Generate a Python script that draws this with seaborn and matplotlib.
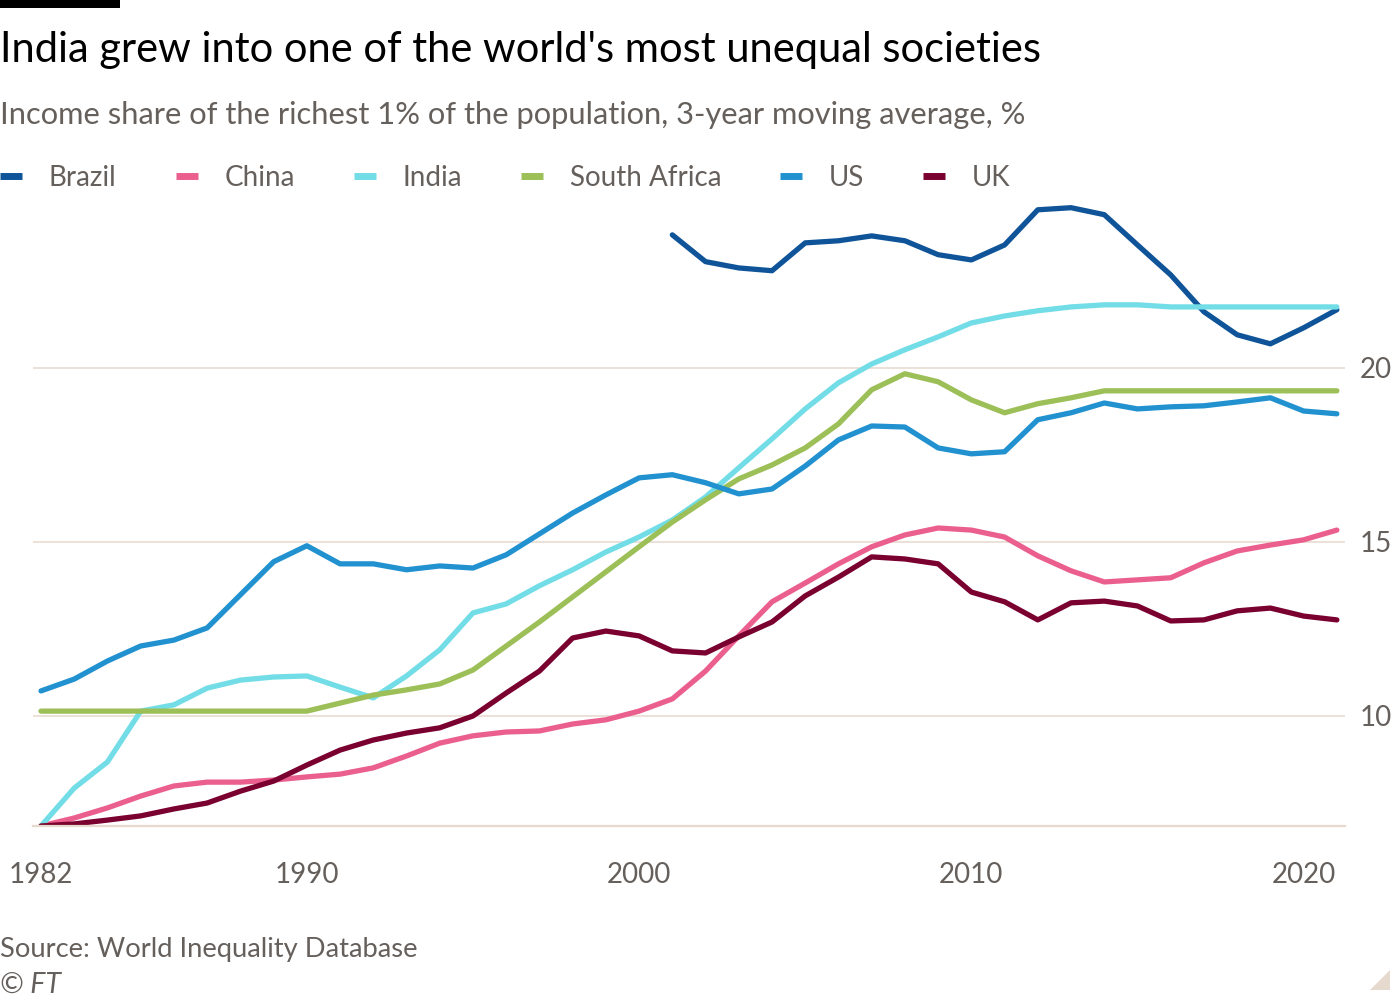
import numpy as np
import pandas as pd
import matplotlib
matplotlib.use("Agg")
import matplotlib.pyplot as plt
from matplotlib.patches import Rectangle, Polygon
import seaborn as sns

# ---------------- data ----------------
years = list(range(1982, 2022))
brazil_years = list(range(2001, 2022))

brazil = [23.82, 23.05, 22.87, 22.79, 23.59, 23.65, 23.79, 23.65, 23.25, 23.10,
          23.53, 24.54, 24.60, 24.40, 23.53, 22.67, 21.61, 20.95, 20.69, 21.15, 21.67]

china = [6.84, 7.07, 7.36, 7.70, 7.99, 8.10, 8.10, 8.16, 8.25, 8.33,
         8.51, 8.85, 9.22, 9.43, 9.54, 9.57, 9.77, 9.89, 10.14, 10.49,
         11.29, 12.30, 13.28, 13.82, 14.37, 14.86, 15.20, 15.40, 15.34, 15.14,
         14.60, 14.17, 13.85, 13.91, 13.97, 14.40, 14.74, 14.91, 15.06, 15.34]

india = [6.84, 7.93, 8.68, 10.14, 10.32, 10.80, 11.03, 11.12, 11.15, 10.83,
         10.52, 11.15, 11.90, 12.96, 13.22, 13.74, 14.20, 14.71, 15.14, 15.63,
         16.29, 17.13, 17.96, 18.82, 19.57, 20.11, 20.52, 20.89, 21.29, 21.49,
         21.64, 21.75, 21.81, 21.81, 21.75, 21.75, 21.75, 21.75, 21.75, 21.75]

south_africa = [10.14, 10.14, 10.14, 10.14, 10.14, 10.14, 10.14, 10.14, 10.14, 10.37,
                10.60, 10.75, 10.92, 11.32, 12.01, 12.70, 13.42, 14.14, 14.86, 15.57,
                16.21, 16.81, 17.21, 17.70, 18.39, 19.37, 19.83, 19.60, 19.08, 18.71,
                18.97, 19.14, 19.34, 19.34, 19.34, 19.34, 19.34, 19.34, 19.34, 19.34]

us = [10.72, 11.06, 11.58, 12.01, 12.18, 12.53, 13.48, 14.43, 14.89, 14.37,
      14.37, 14.20, 14.31, 14.25, 14.63, 15.23, 15.83, 16.35, 16.84, 16.93,
      16.70, 16.38, 16.52, 17.18, 17.93, 18.33, 18.30, 17.70, 17.53, 17.59,
      18.51, 18.71, 18.99, 18.82, 18.88, 18.91, 19.02, 19.14, 18.76, 18.68]

uk = [6.84, 6.90, 7.01, 7.13, 7.33, 7.50, 7.84, 8.13, 8.59, 9.02,
      9.31, 9.51, 9.66, 10.00, 10.66, 11.29, 12.24, 12.44, 12.30, 11.87,
      11.81, 12.27, 12.70, 13.45, 13.99, 14.57, 14.51, 14.37, 13.56, 13.28,
      12.76, 13.25, 13.30, 13.16, 12.73, 12.76, 13.02, 13.10, 12.87, 12.76]

countries = ["Brazil", "China", "India", "South Africa", "US", "UK"]
y_ticks = [10, 15, 20]
x_label_years = [1982, 1990, 2000, 2010, 2020]

title = "India grew into one of the world's most unequal societies"
subtitle = "Income share of the richest 1% of the population, 3-year moving average, %"
source = "Source: World Inequality Database"

colors = {
    "Brazil": "#0F5499",
    "China": "#EB5F8F",
    "India": "#72DDE6",
    "South Africa": "#9CBF57",
    "US": "#2191D0",
    "UK": "#7A0030",
}

frames = [pd.DataFrame({"year": brazil_years, "value": brazil, "country": "Brazil"})]
for name, vals in [("China", china), ("India", india), ("South Africa", south_africa),
                   ("US", us), ("UK", uk)]:
    frames.append(pd.DataFrame({"year": years, "value": vals, "country": name}))
df = pd.concat(frames, ignore_index=True)

# ---------------- style ----------------
sns.set_theme(style="white")
plt.rcParams["font.family"] = ["Lato", "DejaVu Sans"]

GREY = "#66605C"
GRID = "#E6D9CE"

fig = plt.figure(figsize=(14, 10), dpi=100, facecolor="white")
ax = fig.add_axes([0.0236, 0.174, 0.937, 0.627])

sns.lineplot(data=df, x="year", y="value", hue="country", hue_order=countries,
             palette=colors, linewidth=3.8, ax=ax, legend=True)

ax.set_xlim(1981.76, 2021.24)
ax.set_ylim(6.84, 24.85)

# grid
ax.set_yticks(y_ticks)
ax.yaxis.grid(True, color=GRID, linewidth=1.1)
ax.set_axisbelow(True)
ax.yaxis.tick_right()
ax.tick_params(axis="y", length=0, pad=11, labelsize=20, labelcolor=GREY)

# x ticks
major = x_label_years + [2021]
ax.set_xticks(major)
ax.set_xticklabels([str(y) for y in x_label_years] + [""])
ax.set_xticks([y for y in years if y not in major], minor=True)
ax.tick_params(axis="x", which="major", length=24, width=1.1, color=GRID,
               labelsize=20, labelcolor=GREY, pad=2, direction="out")
ax.tick_params(axis="x", which="minor", length=16, width=1.1, color=GRID, direction="out")

for s in ["top", "left", "right"]:
    ax.spines[s].set_visible(False)
ax.spines["bottom"].set_color(GRID)
ax.spines["bottom"].set_linewidth(1.6)
ax.set_xlabel("")
ax.set_ylabel("")

# legend
handles, labels = ax.get_legend_handles_labels()
leg = ax.legend(handles, labels, loc="center left", bbox_to_anchor=(0.0, 0.822),
                bbox_transform=fig.transFigure, ncol=6, frameon=False,
                fontsize=20, handlelength=0.8, handletextpad=0.95,
                columnspacing=2.13, borderpad=0, borderaxespad=0)
for t in leg.get_texts():
    t.set_color(GREY)
for h in leg.get_lines():
    h.set_linewidth(5)
    h.set_solid_capstyle("butt")

# texts
fig.text(0.0, 0.950, title, fontsize=30, color="black", ha="left", va="center")
fig.text(0.0, 0.885, subtitle, fontsize=22.2, color=GREY, ha="left", va="center")
fig.text(0.0, 0.051, source, fontsize=19.7, color=GREY, ha="left", va="center")
fig.text(0.0, 0.015, "© FT", fontsize=20.5, color=GREY, ha="left", va="center",
         style="italic")

# decorations
fig.patches.append(Rectangle((0, 0.992), 0.0857, 0.008, transform=fig.transFigure,
                             facecolor="black", edgecolor="none"))
fig.patches.append(Polygon([(0.9786, 0.010), (0.9929, 0.010), (0.9929, 0.030)],
                           closed=True, transform=fig.transFigure,
                           facecolor=GRID, edgecolor="none"))

fig.savefig("out.png", dpi=100, facecolor="white")
